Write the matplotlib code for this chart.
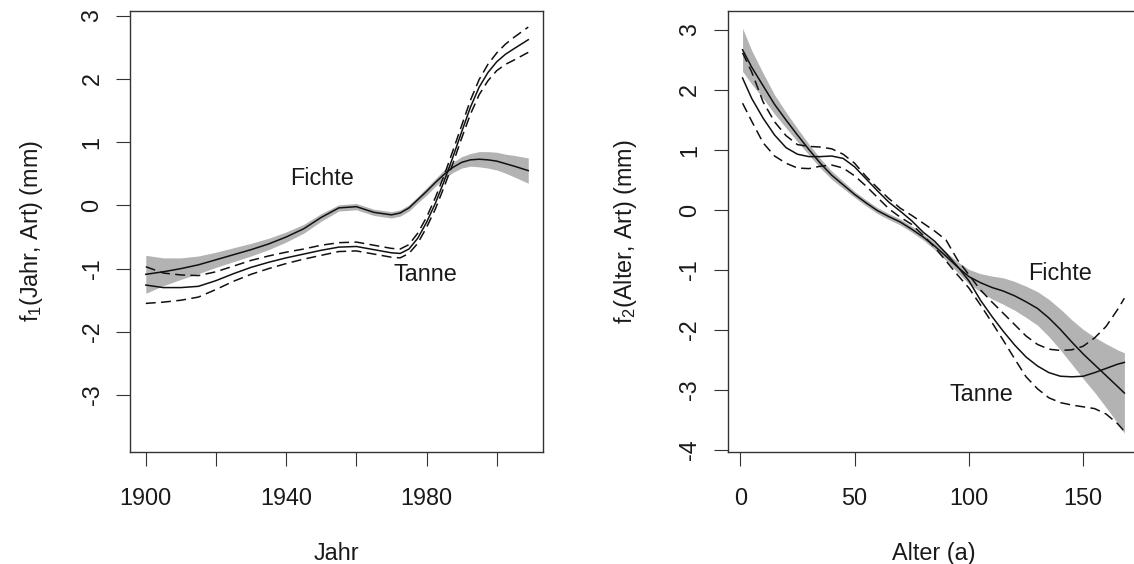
import numpy as np
import matplotlib
matplotlib.use("Agg")
import matplotlib.pyplot as plt

plt.rcParams['font.family'] = ['Liberation Sans', 'DejaVu Sans']
plt.rcParams['mathtext.fontset'] = 'custom'
plt.rcParams['mathtext.rm'] = 'Liberation Sans'
plt.rcParams['mathtext.it'] = 'Liberation Sans:italic'

# ---------------- left panel: f1(Jahr, Art) ----------------
jahr = [1900, 1905, 1910, 1915, 1920, 1925, 1930, 1935, 1940, 1945, 1950, 1955, 1960,
        1965, 1970, 1972.5, 1975, 1977.5, 1980, 1982.5, 1985, 1987.5, 1990, 1992.5,
        1995, 1997.5, 2000, 2002.5, 2005, 2009]
fichte_jahr = [-1.09, -1.05, -1.00, -0.94, -0.86, -0.78, -0.70, -0.61, -0.50, -0.37, -0.19,
               -0.04, -0.02, -0.11, -0.15, -0.12, -0.04, 0.09, 0.22, 0.36, 0.49, 0.60, 0.68,
               0.72, 0.73, 0.72, 0.70, 0.66, 0.62, 0.55]
fichte_jahr_se = [0.30, 0.22, 0.17, 0.14, 0.12, 0.11, 0.10, 0.09, 0.08, 0.07, 0.06, 0.05, 0.05,
                  0.05, 0.05, 0.05, 0.05, 0.05, 0.06, 0.06, 0.07, 0.08, 0.09, 0.10, 0.12, 0.13,
                  0.14, 0.15, 0.17, 0.20]
tanne_jahr = [-1.26, -1.30, -1.30, -1.28, -1.19, -1.08, -0.98, -0.90, -0.83, -0.77, -0.71,
              -0.66, -0.65, -0.70, -0.75, -0.76, -0.69, -0.52, -0.27, 0.03, 0.38, 0.76, 1.16,
              1.55, 1.87, 2.10, 2.27, 2.39, 2.48, 2.62]
tanne_jahr_se = [0.29, 0.23, 0.20, 0.17, 0.14, 0.12, 0.11, 0.10, 0.09, 0.08, 0.08, 0.07, 0.07,
                 0.07, 0.07, 0.07, 0.07, 0.08, 0.08, 0.09, 0.09, 0.10, 0.10, 0.11, 0.12, 0.13,
                 0.14, 0.16, 0.18, 0.20]
jahr_xticks = [1900, 1920, 1940, 1960, 1980, 2000]
jahr_xticklabels = ['1900', '', '1940', '', '1980', '']
jahr_yticks = [-3, -2, -1, 0, 1, 2, 3]

# ---------------- right panel: f2(Alter, Art) ----------------
alter = [1, 5, 10, 15, 20, 25, 30, 35, 40, 45, 50, 55, 60, 65, 70, 75, 80, 85, 90, 95, 100,
         105, 110, 115, 120, 125, 130, 135, 140, 145, 150, 155, 160, 165, 168]
fichte_alter = [2.67, 2.38, 2.07, 1.76, 1.50, 1.25, 1.01, 0.78, 0.58, 0.42, 0.26, 0.12, -0.01,
                -0.11, -0.20, -0.32, -0.45, -0.60, -0.77, -0.95, -1.11, -1.21, -1.29, -1.35,
                -1.43, -1.53, -1.64, -1.80, -1.99, -2.20, -2.40, -2.58, -2.76, -2.94, -3.05]
fichte_alter_se = [0.36, 0.28, 0.21, 0.16, 0.13, 0.11, 0.09, 0.08, 0.07, 0.06, 0.05, 0.05, 0.05,
                   0.05, 0.05, 0.05, 0.05, 0.06, 0.07, 0.09, 0.12, 0.15, 0.19, 0.22, 0.24, 0.26,
                   0.28, 0.31, 0.34, 0.37, 0.41, 0.46, 0.53, 0.61, 0.67]
tanne_alter = [2.20, 1.86, 1.53, 1.25, 1.04, 0.93, 0.89, 0.89, 0.90, 0.86, 0.72, 0.52, 0.32,
               0.13, -0.02, -0.18, -0.37, -0.52, -0.72, -0.94, -1.18, -1.50, -1.77, -2.02,
               -2.25, -2.45, -2.60, -2.71, -2.77, -2.78, -2.77, -2.71, -2.64, -2.57, -2.54]
tanne_alter_hi = [2.62, 2.30, 1.80, 1.47, 1.24, 1.09, 1.06, 1.05, 1.02, 0.93, 0.78, 0.56, 0.37,
                  0.19, 0.03, -0.09, -0.22, -0.35, -0.50, -0.83, -1.08, -1.33, -1.53, -1.72,
                  -1.91, -2.10, -2.24, -2.32, -2.34, -2.33, -2.27, -2.13, -1.94, -1.66, -1.47]
tanne_alter_lo = [1.78, 1.48, 1.12, 0.90, 0.78, 0.70, 0.69, 0.73, 0.75, 0.70, 0.57, 0.40, 0.21,
                  0.02, -0.12, -0.24, -0.42, -0.62, -0.85, -1.08, -1.30, -1.58, -1.87, -2.17,
                  -2.48, -2.78, -2.98, -3.13, -3.21, -3.25, -3.28, -3.31, -3.40, -3.56, -3.69]
alter_xticks = [0, 50, 100, 150]
alter_yticks = [-4, -3, -2, -1, 0, 1, 2, 3]

W, H = 1134, 564
fig = plt.figure(figsize=(W / 100, H / 100), dpi=100)

band_col = '#b3b3b3'
line_col = '#111111'
text_col = '#1a1a1a'
fs = 16.8
dash = (0, (6.5, 3.5))


def px_axes(x0, y0, x1, y1):
    return fig.add_axes([x0 / W, 1 - y1 / H, (x1 - x0) / W, (y1 - y0) / H])


def style(ax):
    for s in ax.spines.values():
        s.set_color('#333333')
        s.set_linewidth(1.0)
    ax.tick_params(axis='both', direction='out', length=10, width=0.8, color='#333333',
                   labelsize=fs, labelcolor=text_col)
    ax.tick_params(axis='x', pad=15.0)
    ax.tick_params(axis='y', pad=9.0)
    for lab in ax.get_yticklabels():
        lab.set_rotation(90)
        lab.set_va('center')


# left
ax1 = px_axes(130, 11, 543, 452)
fj = np.array(fichte_jahr); fjs = np.array(fichte_jahr_se)
tj = np.array(tanne_jahr); tjs = np.array(tanne_jahr_se)
ax1.fill_between(jahr, fj - fjs, fj + fjs, color=band_col, lw=0)
ax1.plot(jahr, fj, color=line_col, lw=1.1)
ax1.plot(jahr, tj, color=line_col, lw=1.1)
ax1.plot(jahr, tj + tjs, color=line_col, lw=1.1, ls=dash)
ax1.plot(jahr, tj - tjs, color=line_col, lw=1.1, ls=dash)
ax1.set_xlim(1895.5, 2013.2)
ax1.set_ylim(-3.90, 3.074)
ax1.set_xticks(jahr_xticks)
ax1.set_xticklabels(jahr_xticklabels)
ax1.set_yticks(jahr_yticks)
ax1.set_yticklabels([str(v) for v in jahr_yticks])
style(ax1)
ax1.text(1950.1, 0.42, 'Fichte', fontsize=fs, color=text_col, ha='center', va='center')
ax1.text(1979.8, -1.10, 'Tanne', fontsize=fs, color=text_col, ha='center', va='center')

# right
ax2 = px_axes(727.7, 11, 1139.7, 452)
fa = np.array(fichte_alter); fas = np.array(fichte_alter_se)
ax2.fill_between(alter, fa - fas, fa + fas, color=band_col, lw=0)
ax2.plot(alter, fa, color=line_col, lw=1.1)
ax2.plot(alter, tanne_alter, color=line_col, lw=1.1)
ax2.plot(alter, tanne_alter_hi, color=line_col, lw=1.1, ls=dash)
ax2.plot(alter, tanne_alter_lo, color=line_col, lw=1.1, ls=dash)
ax2.set_xlim(-5.5, 174.7)
ax2.set_ylim(-4.033, 3.317)
ax2.set_xticks(alter_xticks)
ax2.set_xticklabels([str(v) for v in alter_xticks])
ax2.set_yticks(alter_yticks)
ax2.set_yticklabels([str(v) for v in alter_yticks])
style(ax2)
ax2.text(139.9, -1.06, 'Fichte', fontsize=fs, color=text_col, ha='center', va='center')
ax2.text(105.3, -3.08, 'Tanne', fontsize=fs, color=text_col, ha='center', va='center')

# axis titles
fig.text(336.5 / W, 1 - 560 / H, 'Jahr', fontsize=fs, color=text_col, ha='center', va='baseline')
fig.text(933.7 / W, 1 - 560 / H, 'Alter (a)', fontsize=fs, color=text_col, ha='center', va='baseline')
fig.text(32 / W, 1 - 231.5 / H, r'f$_\mathregular{1}$(Jahr, Art) (mm)', fontsize=fs,
         color=text_col, ha='center', va='center', rotation=90)
fig.text(625 / W, 1 - 231.5 / H, r'f$_\mathregular{2}$(Alter, Art) (mm)', fontsize=fs,
         color=text_col, ha='center', va='center', rotation=90)

fig.savefig('out.png', dpi=100)
